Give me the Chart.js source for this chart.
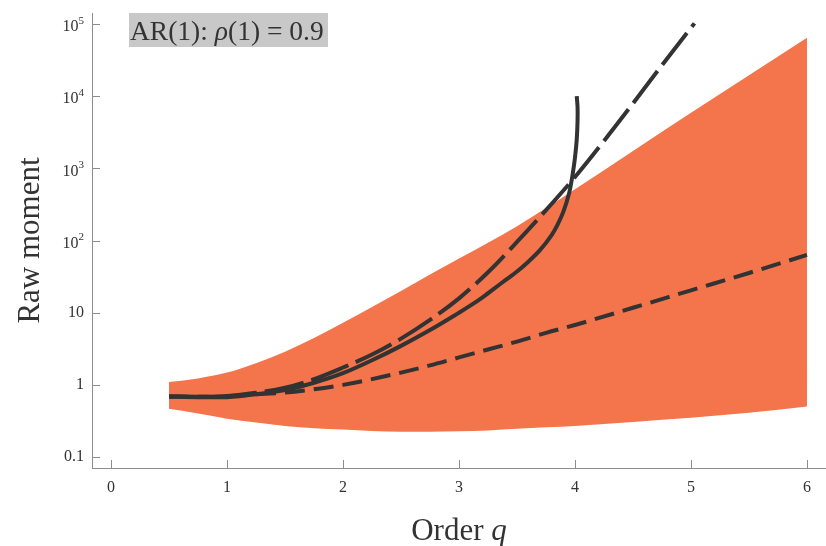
<!DOCTYPE html>
<html>
<head>
<meta charset="utf-8">
<script src="https://cdn.jsdelivr.net/npm/chart.js@4.4.1/dist/chart.umd.min.js"></script>
<style>
  html, body { margin: 0; padding: 0; background: #fff; }
  #chart { display: block; }
</style>
</head>
<body>
<canvas id="chart" width="826" height="546"></canvas>
<script>
// band grid (order q) and the shaded range
const bandQ = [0.5, 0.75, 1, 1.25, 1.5, 1.75, 2, 2.25, 2.5, 2.75, 3, 3.25, 3.5, 3.75, 4, 4.5, 5, 5.5, 6];
const bandUpper = [1.10, 1.23, 1.48, 2.00, 2.88, 4.47, 7.24, 12.0, 20.0, 33.9, 56.2, 93.3, 158, 282, 513, 1740, 5890, 19500, 64600];
const bandLower = [0.466, 0.40, 0.34, 0.30, 0.27, 0.25, 0.24, 0.23, 0.224, 0.224, 0.227, 0.234, 0.246, 0.258, 0.27, 0.307, 0.35, 0.41, 0.50];

// short-dashed curve, same grid as the band
const shortDashVals = [0.69, 0.684, 0.70, 0.74, 0.785, 0.87, 1.0, 1.20, 1.48, 1.86, 2.40, 3.09, 3.98, 5.25, 6.76, 11.7, 20.4, 35.5, 63.1];

// long-dashed curve
const longDashQ = [0.5, 0.75, 1, 1.25, 1.5, 1.75, 2, 2.25, 2.5, 2.75, 3, 3.25, 3.5, 3.75, 4, 4.25, 4.5, 4.75, 5.03];
const longDashVals = [0.69, 0.684, 0.70, 0.776, 0.912, 1.20, 1.74, 2.63, 4.37, 7.94, 15.8, 36.3, 95.5, 263, 759, 2400, 7940, 26900, 102000];

// solid curve (blows up near q = 4)
const solidQ = [0.5, 0.75, 1, 1.25, 1.5, 1.75, 2, 2.25, 2.5, 2.75, 3, 3.1, 3.2, 3.3, 3.4, 3.5, 3.6, 3.7, 3.8, 3.85, 3.9, 3.95, 3.98, 4.0, 4.015, 4.022, 4.022, 4.015];
const solidVals = [0.69, 0.676, 0.676, 0.74, 0.85, 1.07, 1.45, 2.19, 3.47, 5.75, 10.0, 12.6, 16.2, 21.4, 28.2, 37.2, 51.3, 74.1, 120, 166, 251, 457, 832, 1410, 2510, 4470, 7080, 10000];

const xTickValues = [0, 1, 2, 3, 4, 5, 6];
const yTickValues = [0.1, 1, 10, 100, 1000, 10000, 100000];
const yTickLabels = ['0.1', '1', '10', '10²', '10³', '10⁴', '10⁵'];

const xTitle = 'Order ';
const xTitleVar = 'q';
const yTitle = 'Raw moment';
const boxParts = [['AR(1): ', false], ['ρ', true], ['(1) = 0.9', false]];

const serif = '"Liberation Serif", "DejaVu Serif", serif';
const ink = '#333333';
const axisColor = '#8c8c8c';
const orange = '#f4754b';

const toPoints = (xs, ys) => xs.map((x, i) => ({ x: x, y: ys[i] }));

const supMap = { '⁰': '0', '¹': '1', '²': '2', '³': '3', '⁴': '4', '⁵': '5', '⁶': '6', '⁷': '7', '⁸': '8', '⁹': '9' };

const decorations = {
  id: 'decorations',
  afterDraw(chart) {
    const { ctx, chartArea, scales: { x, y } } = chart;
    ctx.save();

    // inward tick marks
    ctx.strokeStyle = axisColor;
    ctx.lineWidth = 1;
    ctx.beginPath();
    x.ticks.forEach((t) => {
      const px = Math.round(x.getPixelForValue(t.value)) + 0.5;
      ctx.moveTo(px, chartArea.bottom);
      ctx.lineTo(px, chartArea.bottom - 8);
    });
    y.ticks.forEach((t) => {
      const py = Math.round(y.getPixelForValue(t.value)) + 0.5;
      ctx.moveTo(chartArea.left, py);
      ctx.lineTo(chartArea.left + 8, py);
    });
    ctx.stroke();

    // y tick labels with superscripts
    ctx.fillStyle = ink;
    ctx.textBaseline = 'middle';
    ctx.textAlign = 'left';
    y.ticks.forEach((t, i) => {
      const label = yTickLabels[i];
      const py = y.getPixelForValue(t.value);
      let base = '';
      let sup = '';
      for (const ch of label) {
        if (supMap[ch]) sup += supMap[ch];
        else base += ch;
      }
      ctx.font = '16px ' + serif;
      const wb = ctx.measureText(base).width;
      ctx.font = '11px ' + serif;
      const ws = sup ? ctx.measureText(sup).width : 0;
      const right = chartArea.left - 8;
      const left = right - wb - ws;
      ctx.font = '16px ' + serif;
      ctx.fillText(base, left, py + (sup ? 3 : 0));
      if (sup) {
        ctx.font = '11px ' + serif;
        ctx.fillText(sup, left + wb, py - 3);
      }
    });

    // axis titles
    ctx.fillStyle = ink;
    ctx.textBaseline = 'alphabetic';
    ctx.font = '31px ' + serif;
    const w1 = ctx.measureText(xTitle).width;
    ctx.font = 'italic 31px ' + serif;
    const w2 = ctx.measureText(xTitleVar).width;
    const cx = (chartArea.left + chartArea.right) / 2;
    const sx = cx - (w1 + w2) / 2;
    ctx.font = '31px ' + serif;
    ctx.textAlign = 'left';
    ctx.fillText(xTitle, sx, 540);
    ctx.font = 'italic 31px ' + serif;
    ctx.fillText(xTitleVar, sx + w1, 540);

    ctx.save();
    ctx.translate(39, (chartArea.top + chartArea.bottom) / 2);
    ctx.rotate(-Math.PI / 2);
    ctx.textAlign = 'center';
    ctx.font = '31px ' + serif;
    ctx.fillText(yTitle, 0, 0);
    ctx.restore();

    // label box
    ctx.fillStyle = '#c8c8c8';
    ctx.fillRect(129, 13, 199, 34);
    ctx.fillStyle = ink;
    ctx.textAlign = 'left';
    let tx = 130;
    boxParts.forEach(([txt, italic]) => {
      ctx.font = (italic ? 'italic ' : '') + '27.5px ' + serif;
      ctx.fillText(txt, tx, 40);
      tx += ctx.measureText(txt).width;
    });

    ctx.restore();
  },
};

const lineStyle = {
  borderColor: ink,
  borderWidth: 4,
  pointRadius: 0,
  fill: false,
  cubicInterpolationMode: 'monotone',
  borderCapStyle: 'butt',
};

new Chart(document.getElementById('chart'), {
  type: 'line',
  data: {
    datasets: [
      { ...lineStyle, label: 'solid', cubicInterpolationMode: 'default', tension: 0.3, data: toPoints(solidQ, solidVals) },
      { ...lineStyle, label: 'long dash', borderDash: [40, 8], data: toPoints(longDashQ, longDashVals) },
      { ...lineStyle, label: 'short dash', borderDash: [20, 9], data: toPoints(bandQ, shortDashVals) },
      { label: 'lower', data: toPoints(bandQ, bandLower), borderWidth: 0, pointRadius: 0, fill: false, cubicInterpolationMode: 'monotone' },
      { label: 'upper', data: toPoints(bandQ, bandUpper), borderWidth: 0, pointRadius: 0, fill: 3, backgroundColor: orange, cubicInterpolationMode: 'monotone' },
    ],
  },
  options: {
    responsive: false,
    animation: false,
    layout: { padding: { top: 13, right: 0, left: 0, bottom: 0 } },
    plugins: { legend: { display: false }, tooltip: { enabled: false } },
    scales: {
      x: {
        type: 'linear',
        min: -0.164,
        max: 6.164,
        afterBuildTicks: (s) => { s.ticks = xTickValues.map((v) => ({ value: v })); },
        afterFit: (s) => { s.height = 78; },
        grid: { display: false, drawTicks: false },
        border: { display: true, color: axisColor, width: 1 },
        ticks: { color: ink, font: { family: serif, size: 16 }, padding: 10, maxRotation: 0 },
      },
      y: {
        type: 'logarithmic',
        min: 0.0705,
        max: 142000,
        afterBuildTicks: (s) => { s.ticks = yTickValues.map((v) => ({ value: v })); },
        afterFit: (s) => { s.width = 92; },
        grid: { display: false, drawTicks: false },
        border: { display: true, color: axisColor, width: 1 },
        ticks: { display: false },
      },
    },
  },
  plugins: [decorations],
});
</script>
</body>
</html>
